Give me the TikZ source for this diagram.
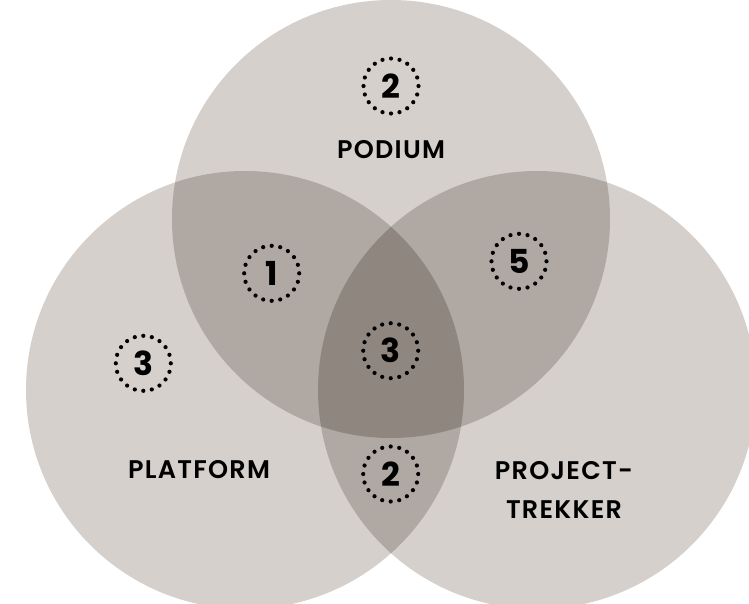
\documentclass[tikz,border=0pt]{standalone}
\usepackage{fontspec}
\setmainfont{Poppins}[BoldFont={Poppins SemiBold}]
\newfontfamily\capfont{Poppins SemiBold}[LetterSpace=5]
\newfontfamily\digfont{Poppins Bold}
\definecolor{cone}{RGB}{213,208,204}
\definecolor{ctwo}{RGB}{176,168,163}
\definecolor{cthree}{RGB}{143,134,127}
\begin{document}
\begin{tikzpicture}[x=1pt,y=-1pt,
  ring/.style={circle, minimum size=55pt, inner sep=0pt, font=\fontsize{33}{33}\selectfont\digfont},
  dot/.style={fill=black},
  lab/.style={anchor=base, inner sep=0pt, font=\fontsize{25.5}{25.5}\selectfont\capfont}]
\useasboundingbox (0,0) rectangle (749,603);
\coordinate (T) at (391,219);
\coordinate (L) at (245,390);
\coordinate (R) at (537,390);
\def\rT{219}\def\rL{219}\def\rR{219}
\fill[cone] (T) circle (\rT) (L) circle (\rL) (R) circle (\rR);
\begin{scope}\clip (T) circle (\rT); \fill[ctwo] (L) circle (\rL) (R) circle (\rR); \end{scope}
\begin{scope}\clip (L) circle (\rL); \fill[ctwo] (R) circle (\rR); \end{scope}
\begin{scope}\clip (T) circle (\rT); \clip (L) circle (\rL); \fill[cthree] (R) circle (\rR); \end{scope}
\foreach \nm/\px/\py/\txt in {top/391/86/2, one/271.7/273.3/1, five/519/261.3/5, left/143.3/363.3/3, mid/390.7/350.7/3, bot/390.7/474/2}{
  \node[ring] (\nm) at (\px,\py) {\txt};
  \foreach \a in {0,18,...,342}{ \fill[dot] (\nm.center) ++(\a:27.5) circle (2.1); }
}
\node[lab] (podium) at (391,158) {PODIUM};
\node[lab] (platform) at (199,478) {PLATFORM};
\node[lab] (project) at (564,479) {PROJECT-};
\node[lab] (trekker) at (564,518) {TREKKER};
\end{tikzpicture}
\end{document}
